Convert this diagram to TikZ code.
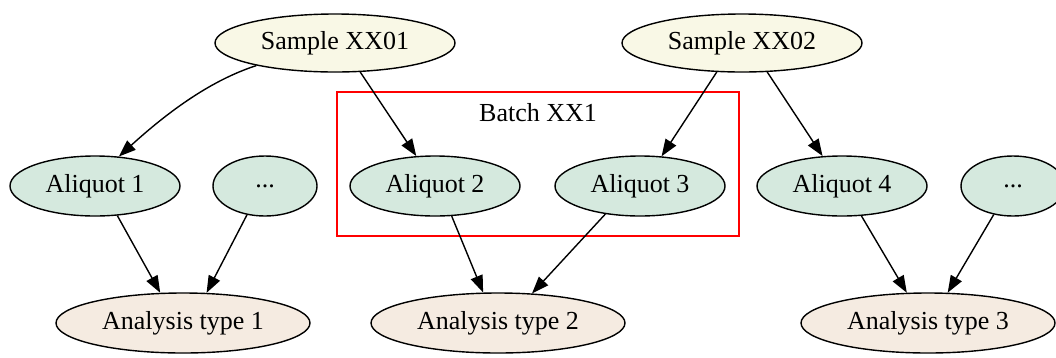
\documentclass[tikz,border=0pt]{standalone}
\usepackage{fontspec}
\setmainfont{Liberation Serif}
\usetikzlibrary{shapes.geometric,arrows.meta}
\definecolor{samplefill}{HTML}{F9F8E6}
\definecolor{aliquotfill}{HTML}{D5E9DE}
\definecolor{analysisfill}{HTML}{F5EBE1}
\begin{document}
\begin{tikzpicture}[x=1pt,y=-1pt,
  every node/.style={font=\fontsize{26}{31}\selectfont},
  oval/.style={ellipse,draw=black,line width=1.4pt,inner sep=0pt},
  sample/.style={oval,fill=samplefill,minimum width=240pt,minimum height=58pt},
  aliquot/.style={oval,fill=aliquotfill,minimum width=170pt,minimum height=60pt},
  more/.style={oval,fill=aliquotfill,minimum width=104pt,minimum height=60pt},
  analysis/.style={oval,fill=analysisfill,minimum width=254pt,minimum height=60pt},
  edge/.style={draw=black,line width=1.4pt,-{Triangle[length=17pt,width=12.5pt]}}]
\useasboundingbox (0,0) rectangle (1056,357);

% batch cluster
\draw[red,line width=1.4pt] (337,92) rectangle (739,236);
\node (batch) at (538,113) {Batch XX1};

% samples
\node[sample] (s1) at (335,43) {Sample XX01};
\node[sample] (s2) at (742,43) {Sample XX02};

% aliquots
\node[aliquot] (a1) at (95,186) {Aliquot 1};
\node[more]    (m1) at (265,186) {...};
\node[aliquot] (a2) at (435,186) {Aliquot 2};
\node[aliquot] (a3) at (640,186) {Aliquot 3};
\node[aliquot] (a4) at (842,186) {Aliquot 4};
\node[more]    (m2) at (1013,186) {...};

% analyses
\node[analysis] (t1) at (183,323) {Analysis type 1};
\node[analysis] (t2) at (498,323) {Analysis type 2};
\node[analysis] (t3) at (928,323) {Analysis type 3};

% edges
\draw[edge] (s1.196) .. controls (212,80) and (170,110) .. (a1.51);
\draw[edge] (s1.-49) -- (a2.122);
\draw[edge] (s2.229) -- (a3.54);
\draw[edge] (s2.-49) -- (a4.123);
\draw[edge] (a1.-53) -- (t1.127);
\draw[edge] (m1.-122) -- (t1.52);
\draw[edge] (a2.-61) -- (t2.116);
\draw[edge] (a3.-141) -- (t2.41);
\draw[edge] (a4.-57) -- (t3.125);
\draw[edge] (m2.-124) -- (t3.57);
\end{tikzpicture}
\end{document}
